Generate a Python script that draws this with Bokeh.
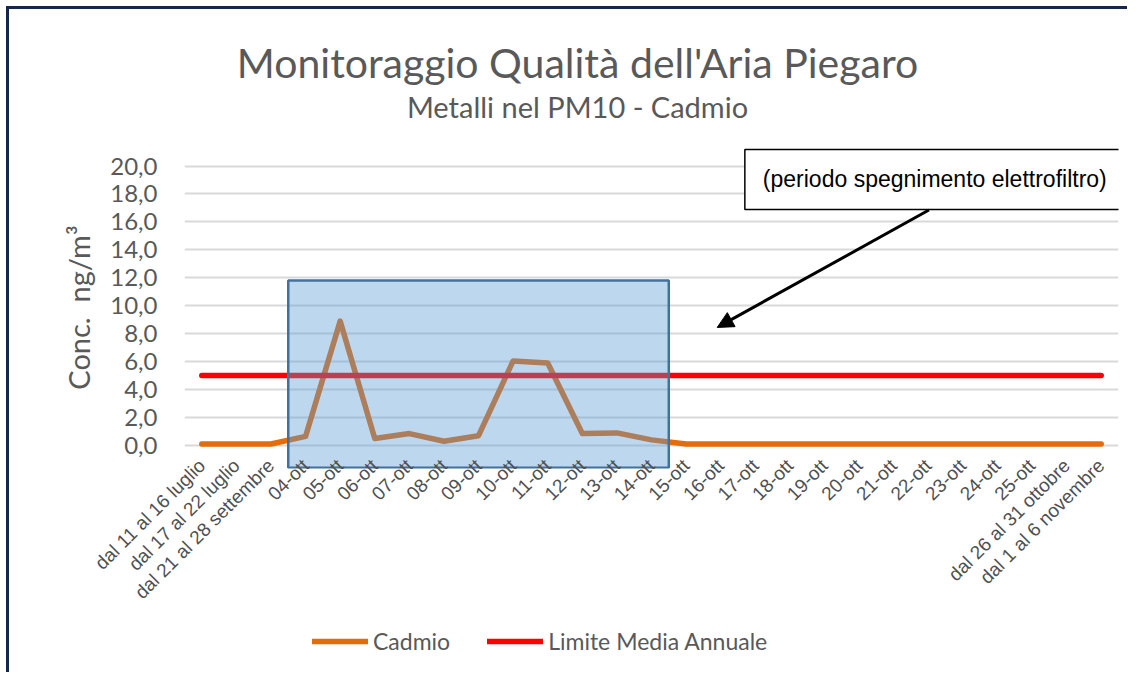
import math
from bokeh.plotting import figure
from bokeh.layouts import column
from bokeh.models import (Range1d, FixedTicker, Label, Arrow, NormalHead, Legend,
                          LegendItem)
from bokeh.embed import file_html
from bokeh.resources import INLINE

# ---------------- data ----------------
categories = [
    "dal 11 al 16 luglio", "dal 17 al 22 luglio", "dal 21 al 28 settembre",
    "04-ott", "05-ott", "06-ott", "07-ott", "08-ott", "09-ott", "10-ott",
    "11-ott", "12-ott", "13-ott", "14-ott", "15-ott", "16-ott", "17-ott",
    "18-ott", "19-ott", "20-ott", "21-ott", "22-ott", "23-ott", "24-ott",
    "25-ott", "dal 26 al 31 ottobre", "dal 1 al 6 novembre",
]
cadmio = [0.1, 0.1, 0.1, 0.65, 8.9, 0.5, 0.85, 0.3, 0.7, 6.05,
          5.9, 0.85, 0.9, 0.4, 0.1, 0.1, 0.1, 0.1, 0.1, 0.1,
          0.1, 0.1, 0.1, 0.1, 0.1, 0.1, 0.1]
limite_media_annuale = [5.0, 5.0, 5.0, 5.0, 5.0, 5.0, 5.0, 5.0, 5.0, 5.0,
                        5.0, 5.0, 5.0, 5.0, 5.0, 5.0, 5.0, 5.0, 5.0, 5.0,
                        5.0, 5.0, 5.0, 5.0, 5.0, 5.0, 5.0]
y_ticks = [0, 2, 4, 6, 8, 10, 12, 14, 16, 18, 20]
y_tick_labels = ["0,0", "2,0", "4,0", "6,0", "8,0", "10,0", "12,0",
                 "14,0", "16,0", "18,0", "20,0"]
shade_start = "04-ott"
shade_end = "14-ott"
shade_top = 11.8

title_text = "Monitoraggio Qualità dell'Aria Piegaro"
subtitle_text = "Metalli nel PM10 - Cadmio"
note_text = "(periodo spegnimento elettrofiltro)"
y_axis_title = "Conc.\u00a0\u00a0ng/m³"
series_names = ["Cadmio", "Limite Media Annuale"]

# ---------------- styling ----------------
x_idx = list(range(len(categories)))
GREY = "#595959"
NAVY = "#12294a"
ORANGE = "#E46C0A"
RED = "#FF0000"


def strip(height):
    f = figure(width=1127, height=height, output_backend="svg",
               toolbar_location=None, x_axis_location=None,
               y_axis_location=None, min_border=0)
    f.outline_line_color = None
    f.grid.visible = False
    f.background_fill_alpha = 0
    f.border_fill_alpha = 0
    return f


# ---------------- title strip ----------------
top = strip(146)
top.x_range = Range1d(184, 1118)     # pixel-like coordinates of the strip
top.y_range = Range1d(146, 0)
top.add_layout(Label(x=577, y=62, text=title_text, text_align="center",
                     text_baseline="middle", text_font="Lato",
                     text_font_size="41px", text_color=GREY))
top.add_layout(Label(x=577, y=106, text=subtitle_text, text_align="center",
                     text_baseline="middle", text_font="Lato",
                     text_font_size="29px", text_color=GREY))

# ---------------- main chart ----------------
p = figure(width=1127, height=474,
           x_range=Range1d(-0.5, len(categories) - 0.5),
           y_range=Range1d(-1.65, 21.4),
           output_backend="svg", toolbar_location=None,
           min_border_left=184, min_border_right=9,
           min_border_top=0, min_border_bottom=152)
p.outline_line_color = None
p.background_fill_color = "white"
p.border_fill_alpha = 0

p.xgrid.visible = False
p.ygrid.ticker = FixedTicker(ticks=y_ticks)
p.ygrid.grid_line_color = "#d9d9d9"
p.ygrid.grid_line_width = 2

# y axis
p.yaxis.ticker = FixedTicker(ticks=y_ticks)
p.yaxis.major_label_overrides = {t: l for t, l in zip(y_ticks, y_tick_labels)}
p.yaxis.axis_line_color = None
p.yaxis.major_tick_line_color = None
p.yaxis.minor_tick_line_color = None
p.yaxis.major_tick_out = 0
p.yaxis.major_tick_in = 0
p.yaxis.major_label_standoff = 27
p.yaxis.major_label_text_font = "Lato"
p.yaxis.major_label_text_font_size = "24px"
p.yaxis.major_label_text_color = GREY
p.yaxis.axis_label = y_axis_title
p.yaxis.axis_label_text_font = "Lato"
p.yaxis.axis_label_text_font_size = "29px"
p.yaxis.axis_label_text_font_style = "normal"
p.yaxis.axis_label_text_color = GREY
p.yaxis.axis_label_standoff = 11

# x axis
p.xaxis.ticker = FixedTicker(ticks=x_idx)
p.xaxis.major_label_overrides = {i: c for i, c in zip(x_idx, categories)}
p.xaxis.major_label_orientation = math.pi / 4
p.xaxis.axis_line_color = None
p.xaxis.major_tick_line_color = None
p.xaxis.minor_tick_line_color = None
p.xaxis.major_tick_out = 0
p.xaxis.major_tick_in = 0
p.xaxis.major_label_standoff = -6
p.xaxis.major_label_text_font = "Liberation Sans"
p.xaxis.major_label_text_font_size = "19px"
p.xaxis.major_label_text_color = "#505050"

# series
p.line(x_idx, cadmio, line_color=ORANGE, line_width=5.5,
       line_cap="round", line_join="round")
p.line(x_idx, limite_media_annuale, line_color=RED, line_width=5.5,
       line_cap="round", line_join="round")

# shaded period
i0 = categories.index(shade_start)
i1 = categories.index(shade_end)
p.quad(left=[i0 - 0.5], right=[i1 + 0.5], top=[shade_top], bottom=[-1.6],
       fill_color="#5B9BD5", fill_alpha=0.4, line_color="#41719C", line_width=2.5)

# annotation box + arrow
p.add_layout(Label(x=21.58, y=19.04, text=note_text, text_align="center",
                   text_baseline="middle", text_font="Liberation Sans",
                   text_font_size="23px", text_color="black",
                   background_fill_color="white", border_line_color="black",
                   border_line_width=1.5,
                   padding=dict(left=18, right=45, top=17, bottom=17)))
p.add_layout(Arrow(x_start=21.02, y_start=16.85, x_end=14.9, y_end=8.45,
                   line_color="black", line_width=3,
                   end=NormalHead(size=16, fill_color="black", line_color="black")))

# ---------------- legend strip ----------------
lg = strip(52)
lg.x_range = Range1d(0, 1)
lg.y_range = Range1d(0, 1)
k_cad = lg.line([math.nan], [math.nan], line_color=ORANGE, line_width=5.5,
                line_cap="round")
k_lim = lg.line([math.nan], [math.nan], line_color=RED, line_width=5.5,
                line_cap="round")
legend = Legend(items=[LegendItem(label=series_names[0], renderers=[k_cad]),
                       LegendItem(label=series_names[1], renderers=[k_lim])],
                orientation="horizontal", location=(128, 17),
                glyph_width=56, glyph_height=26, label_standoff=5, spacing=37,
                padding=0, margin=0, border_line_color=None,
                background_fill_alpha=0,
                label_text_font="Lato", label_text_font_size="23px",
                label_text_color=GREY)
lg.add_layout(legend)

layout = column(top, p, lg, spacing=0)
layout.styles = {
    "background-color": "white",
    "background-image": f"linear-gradient({NAVY}, {NAVY}), linear-gradient({NAVY}, {NAVY})",
    "background-size": "3px 100%, 100% 3px",
    "background-position": "6px 6px, 6px 6px",
    "background-repeat": "no-repeat",
}

open("out.html", "w").write(file_html(layout, INLINE))
